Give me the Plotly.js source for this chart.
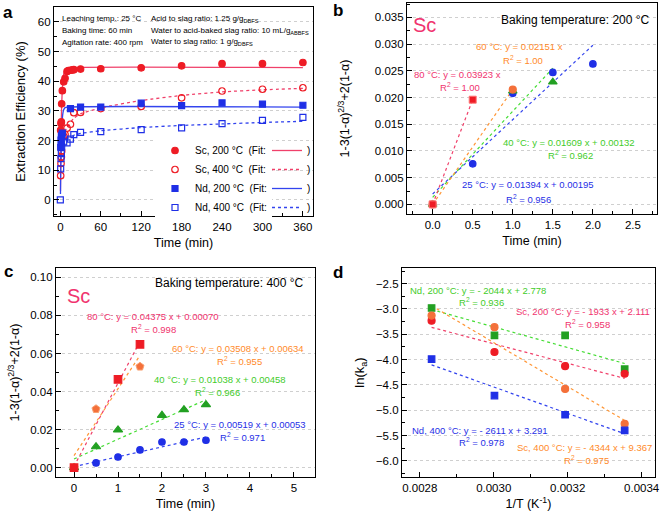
<!DOCTYPE html>
<html><head><meta charset="utf-8">
<script src="https://cdn.plot.ly/plotly-3.0.1.min.js"></script>
<style>html,body{margin:0;padding:0;background:#fff}#chart{width:661px;height:516px}</style>
</head><body><div id="chart"></div>
<script>
// ---------- Panel a data ----------
const aTimeSc200 = [0.5, 1, 1.5, 2, 3, 5, 7, 10, 12, 15, 18, 20, 30, 60, 120, 180, 240, 300, 360];
const aSc200 = [23.5, 25.8, 26.3, 32.4, 36.8, 39.8, 41, 43.3, 43.6, 43.7, 43.8, 43.9, 44.1, 44.2, 44.5, 45.2, 45.9, 45.9, 46.3];
const aTimeSc400 = [0.5, 1, 1.5, 2, 5, 7, 10, 15, 20, 30, 60, 120, 180, 240, 300, 360];
const aSc400 = [8.2, 12.3, 14.5, 16.5, 21.5, 22, 24.2, 25.5, 29.4, 29.5, 30.8, 31.5, 34.4, 36.7, 37.3, 37.8];
const aTimeNd200 = [0.5, 1, 1.5, 2, 3, 15, 30, 60, 120, 180, 240, 300, 360];
const aNd200 = [17.8, 20.2, 21.3, 21.8, 22.5, 30.8, 31.3, 31.3, 32.6, 31.8, 32.7, 32.3, 31.9];
const aTimeNd400 = [0, 0.5, 1, 1.5, 2, 5, 10, 15, 20, 30, 60, 120, 180, 240, 300, 360];
const aNd400 = [0, 10.5, 13.9, 15.6, 18, 19.6, 19.2, 20.5, 22, 22.8, 23, 23.7, 24.3, 25.7, 26.8, 27.8];
// fit curves
const fitTSc200 = [0.2, 0.5, 1, 1.5, 2, 3, 4, 5, 7, 10, 15, 360];
const fitSc200 = [3, 12, 21, 27.5, 32, 37.5, 40.5, 42.3, 43.8, 44.4, 44.6, 44.6];
const fitTSc400 = [0.5, 1, 2, 3, 5, 10, 20, 30, 60, 120, 180, 240, 300, 360];
const fitSc400 = [13, 15.5, 18.5, 20, 22, 24.5, 27.5, 29, 31, 33.5, 35.2, 36.4, 37.1, 37.6];
const fitTNd200 = [0.2, 0.5, 1, 1.5, 2, 3, 4, 5, 7, 10, 360];
const fitNd200 = [2, 8, 15, 20, 23.5, 27.5, 29.5, 30.4, 31.1, 31.3, 31.3];
const fitTNd400 = [0.5, 1, 2, 3, 5, 10, 20, 30, 60, 120, 180, 240, 300, 360];
const fitNd400 = [13, 15, 17, 18, 19.2, 20.6, 21.8, 22.4, 23.3, 24.4, 25.1, 25.6, 26.1, 26.5];
const aLegendNames = ['Sc, 200 °C \u00a0(Fit:', 'Sc, 400 °C \u00a0(Fit:', 'Nd, 200 °C \u00a0(Fit:', 'Nd, 400 °C \u00a0(Fit:'];

// ---------- Panel b data (baking 200 °C) ----------
const b25x = [0, 0.5, 1, 1.5, 2];
const b25y = [0, 0.0076, 0.0208, 0.0247, 0.0263];
const b25fitX = [0, 2], b25fitY = [0.00195, 0.0298];
const b40x = [0, 1, 1.5];
const b40y = [0, 0.0212, 0.0229];
const b40fitX = [0, 1.5], b40fitY = [0.00132, 0.0255];
const b60x = [0, 1];
const b60y = [0, 0.0215];
const b60fitX = [0, 1], b60fitY = [0, 0.02151];
const b80x = [0, 0.5];
const b80y = [0, 0.0196];
const b80fitX = [0, 0.5], b80fitY = [0, 0.0196];

// ---------- Panel c data (baking 400 °C) ----------
const c25x = [0, 0.5, 1, 1.5, 2, 2.5, 3];
const c25y = [0, 0.0025, 0.0056, 0.0093, 0.0135, 0.0135, 0.0144];
const c25fitX = [0, 3], c25fitY = [0.00053, 0.0161];
const c40x = [0, 0.5, 1, 2, 2.5, 3];
const c40y = [0, 0.011, 0.0198, 0.0275, 0.0305, 0.0331];
const c40fitX = [0, 3], c40fitY = [0.00458, 0.0357];
const c60x = [0, 0.5, 1.5];
const c60y = [0, 0.0308, 0.0531];
const c60fitX = [0, 1.5], c60fitY = [0.00634, 0.059];
const c80x = [0, 1, 1.5];
const c80y = [0, 0.0464, 0.0648];
const c80fitX = [0, 1.5], c80fitY = [0.0007, 0.0663];

// ---------- Panel d data ----------
const dInvT = [0.002832, 0.003002, 0.003193, 0.003354];
const dNd200 = [-2.98, -3.52, -3.52, -4.19];
const dSc200 = [-3.23, -3.85, -4.13, -4.28];
const dSc400 = [-3.13, -3.36, -4.58, -5.27];
const dNd400 = [-3.99, -4.71, -5.09, -5.40];
const dFitX = [0.002832, 0.003354];
const dNd200fit = [-3.011, -4.077];
const dSc200fit = [-3.363, -4.372];
const dSc400fit = [-2.935, -5.203];
const dNd400fit = [-4.103, -5.466];

// ---------- styles ----------
const W = 661, H = 516;
const FONT = 'Liberation Sans, Arial, Helvetica, sans-serif';
const RED = '#ee1c25', REDL = '#f0406a', PINK = '#f0336e';
const BLUE = '#1f2fe6', BLUEL = '#3344ee';
const ORANGE = '#f4703a', ORANGEL = '#ff9636', ORANGET = '#ff8a2a';
const GREEN = '#22a022', GREENL = '#44dd33', GREENT = '#3fcc2a';

const traces = [];
function pts(x, y, xa, ya, color, symbol, size, extra) {
  return Object.assign({x, y, xaxis: xa, yaxis: ya, type: 'scatter', mode: 'markers', showlegend: false,
    marker: {color, symbol, size, line: {color, width: 1.2}}}, extra || {});
}
function ln(x, y, xa, ya, color, dash, extra) {
  return Object.assign({x, y, xaxis: xa, yaxis: ya, type: 'scatter', mode: 'lines', showlegend: false,
    line: {color, width: 1.2, dash}}, extra || {});
}
// panel a: fits first (drawn below markers)
traces.push(ln(fitTSc200, fitSc200, 'x', 'y', REDL, 'solid', {showlegend: true, legend: 'legend2', name: ')', line: {color: REDL, width: 1.3, shape: 'spline', smoothing: 0.6}}));
traces.push(ln(fitTSc400, fitSc400, 'x', 'y', REDL, 'dot', {showlegend: true, legend: 'legend2', name: ')', line: {color: REDL, width: 1.3, dash: 'dot', shape: 'spline', smoothing: 0.6}}));
traces.push(ln(fitTNd200, fitNd200, 'x', 'y', BLUEL, 'solid', {showlegend: true, legend: 'legend2', name: ')', line: {color: BLUEL, width: 1.3, shape: 'spline', smoothing: 0.6}}));
traces.push(ln(fitTNd400, fitNd400, 'x', 'y', BLUEL, 'dot', {showlegend: true, legend: 'legend2', name: ')', line: {color: BLUEL, width: 1.3, dash: 'dot', shape: 'spline', smoothing: 0.6}}));
traces.push(pts(aTimeSc200, aSc200, 'x', 'y', RED, 'circle', 6.5, {showlegend: true, name: aLegendNames[0]}));
traces.push(pts(aTimeSc400, aSc400, 'x', 'y', RED, 'circle-open', 6.5, {showlegend: true, name: aLegendNames[1]}));
traces.push(pts(aTimeNd200, aNd200, 'x', 'y', BLUE, 'square', 6, {showlegend: true, name: aLegendNames[2]}));
traces.push(pts(aTimeNd400, aNd400, 'x', 'y', BLUE, 'square-open', 6, {showlegend: true, name: aLegendNames[3]}));

// panel b
traces.push(ln(b25fitX, b25fitY, 'x2', 'y2', BLUEL, 'dot'));
traces.push(ln(b40fitX, b40fitY, 'x2', 'y2', GREENL, 'dot'));
traces.push(ln(b60fitX, b60fitY, 'x2', 'y2', ORANGEL, 'dot'));
traces.push(ln(b80fitX, b80fitY, 'x2', 'y2', REDL, 'dot'));
traces.push(pts(b25x, b25y, 'x2', 'y2', BLUE, 'circle', 6.5));
traces.push(pts(b40x, b40y, 'x2', 'y2', GREEN, 'triangle-up', 7.5));
traces.push(pts(b60x, b60y, 'x2', 'y2', ORANGE, 'circle', 7));
traces.push(pts(b80x, b80y, 'x2', 'y2', RED, 'square', 7, {marker: {color: RED, symbol: 'square', size: 7, line: {color: '#f77', width: 1}}}));

// panel c
traces.push(ln(c25fitX, c25fitY, 'x3', 'y3', BLUEL, 'dot'));
traces.push(ln(c40fitX, c40fitY, 'x3', 'y3', GREENL, 'dot'));
traces.push(ln(c60fitX, c60fitY, 'x3', 'y3', ORANGEL, 'dot'));
traces.push(ln(c80fitX, c80fitY, 'x3', 'y3', REDL, 'dot'));
traces.push(pts(c25x, c25y, 'x3', 'y3', BLUE, 'circle', 6.5));
traces.push(pts(c40x, c40y, 'x3', 'y3', GREEN, 'triangle-up', 8));
traces.push(pts(c60x, c60y, 'x3', 'y3', ORANGE, 'pentagon', 8.5, {marker: {color: ORANGE, symbol: 'pentagon', size: 8.5, line: {color: '#f9a070', width: 1}}}));
traces.push(pts(c80x, c80y, 'x3', 'y3', RED, 'square', 7.5));

// panel d
traces.push(ln(dFitX, dNd200fit, 'x4', 'y4', GREENL, 'dot'));
traces.push(ln(dFitX, dSc200fit, 'x4', 'y4', REDL, 'dot'));
traces.push(ln(dFitX, dSc400fit, 'x4', 'y4', ORANGEL, 'dot'));
traces.push(ln(dFitX, dNd400fit, 'x4', 'y4', BLUEL, 'dot'));
traces.push(pts(dInvT, dNd200, 'x4', 'y4', GREEN, 'square', 6.5));
traces.push(pts(dInvT, dSc200, 'x4', 'y4', RED, 'circle', 7));
traces.push(pts(dInvT, dSc400, 'x4', 'y4', ORANGE, 'circle', 7));
traces.push(pts(dInvT, dNd400, 'x4', 'y4', BLUE, 'square', 6.5));

// ---------- axes ----------
function px(x) { return x / W; }
function py(y) { return 1 - y / H; }
function axis(extra) {
  return Object.assign({
    showline: true, linecolor: '#000', linewidth: 1.2, mirror: true,
    ticks: 'inside', ticklen: 5, tickwidth: 1, tickcolor: '#000',
    showgrid: false, zeroline: false,
    tickfont: {size: 11.5, color: '#000', family: FONT},
  }, extra);
}
function grid() { return {showgrid: true, gridcolor: '#cfcfcf', griddash: 'dot', gridwidth: 1}; }

const layout = {
  width: W, height: H,
  margin: {l: 0, r: 0, t: 0, b: 0},
  paper_bgcolor: '#fff', plot_bgcolor: '#fff',
  font: {family: FONT, color: '#000'},
  xaxis: axis({domain: [px(54), px(313)], range: [-9.4, 375], tickvals: [0, 60, 120, 180, 240, 300, 360],
    minor: {dtick: 30, tick0: 0, ticks: 'inside', ticklen: 3, tickcolor: '#000'},
    title: {text: 'Time (min)', font: {size: 12.5}, standoff: 6}, anchor: 'y'}),
  yaxis: axis(Object.assign(grid(), {domain: [py(216), py(7)], range: [-5.4, 65], dtick: 10, tick0: 0,
    minor: {dtick: 5, tick0: 0, ticks: 'inside', ticklen: 3, tickcolor: '#000'},
    title: {text: 'Extraction Efficiency (%)', font: {size: 13}, standoff: 9}, anchor: 'x'})),
  xaxis2: axis({domain: [px(407), px(657)], range: [-0.32, 2.8], dtick: 0.5, tick0: 0, tickformat: '.1f',
    minor: {dtick: 0.25, tick0: 0, ticks: 'inside', ticklen: 3, tickcolor: '#000'},
    title: {text: 'Time (min)', font: {size: 12.5}, standoff: 6}, anchor: 'y2'}),
  yaxis2: axis(Object.assign(grid(), {domain: [py(214), py(3)], range: [-0.0018, 0.0377], dtick: 0.005, tick0: 0, tickformat: '.3f',
    minor: {dtick: 0.0025, tick0: 0, ticks: 'inside', ticklen: 3, tickcolor: '#000'},
    title: {text: '1-3(1-α)<sup>2/3</sup>+2(1-α)', font: {size: 12.5}, standoff: 22}, anchor: 'x2'})),
  xaxis3: axis({domain: [px(56), px(315)], range: [-0.41, 5.48], dtick: 1, tick0: 0,
    minor: {dtick: 0.5, tick0: 0, ticks: 'inside', ticklen: 3, tickcolor: '#000'},
    title: {text: 'Time (min)', font: {size: 12.5}, standoff: 6}, anchor: 'y3'}),
  yaxis3: axis(Object.assign(grid(), {domain: [py(477), py(268)], range: [-0.0049, 0.1049], dtick: 0.02, tick0: 0, tickformat: '.2f',
    minor: {dtick: 0.01, tick0: 0, ticks: 'inside', ticklen: 3, tickcolor: '#000'},
    title: {text: '1-3(1-α)<sup>2/3</sup>+2(1-α)', font: {size: 12.5}, standoff: 7}, anchor: 'x3'})),
  xaxis4: axis({domain: [px(402), px(655)], range: [0.002752, 0.003436], dtick: 0.0002, tick0: 0.0028, tickformat: '.4f',
    minor: {dtick: 0.0001, tick0: 0.0028, ticks: 'inside', ticklen: 3, tickcolor: '#000'},
    title: {text: '1/T (K<sup>-1</sup>)', font: {size: 12.5}, standoff: 6}, anchor: 'y4'}),
  yaxis4: axis(Object.assign(grid(), {domain: [py(477), py(268)], range: [-6.32, -2.19], dtick: 0.5, tick0: -6, tickformat: '.1f',
    minor: {dtick: 0.25, tick0: -6, ticks: 'inside', ticklen: 3, tickcolor: '#000'},
    title: {text: 'ln(k<sub>a</sub>)', font: {size: 13}, standoff: 8}, anchor: 'x4'})),
  legend: {x: px(155), y: py(136), xanchor: 'left', yanchor: 'top', bgcolor: '#fff', borderwidth: 0,
    font: {size: 10, family: FONT, color: '#000'}, itemwidth: 30, tracegroupgap: 0},
  legend2: {x: px(267), y: py(136), xanchor: 'left', yanchor: 'top', bgcolor: 'rgba(255,255,255,0)', borderwidth: 0,
    font: {size: 10, family: FONT, color: '#000'}, itemwidth: 30, tracegroupgap: 0},
  annotations: []
};

function ann(text, x, y, color, size, opts) {
  layout.annotations.push(Object.assign({text, x: px(x), y: py(y), xref: 'paper', yref: 'paper', showarrow: false,
    xanchor: 'center', yanchor: 'middle', font: {color, size, family: FONT}}, opts || {}));
}
// panel labels
ann('<b>a</b>', 8, 12, '#000', 17);
ann('<b>b</b>', 338, 10, '#000', 17);
ann('<b>c</b>', 8, 271, '#000', 17);
ann('<b>d</b>', 338, 272, '#000', 17);
// panel a conditions
const L = {xanchor: 'left'};
ann('Leaching temp.: 25 °C', 60, 19, '#000', 8, L);
ann('Baking time: 60 min', 60, 30.7, '#000', 8, L);
ann('Agitation rate: 400 rpm', 60, 42.3, '#000', 8, L);
ann('Acid to slag ratio: 1.25 g/g<sub>DBFS</sub>', 149, 19, '#000', 8, L);
ann('Water to acid-baked slag ratio: 10 mL/g<sub>ABBFS</sub>', 149, 30.7, '#000', 8, L);
ann('Water to slag ratio: 1 g/g<sub>DBFS</sub>', 149, 42.3, '#000', 8, L);
// panel b
ann('Sc', 425, 25, PINK, 20);
ann('Baking temperature: 200 °C', 575, 20, '#000', 12);
ann('60 °C: y = 0.02151 x', 519, 47, ORANGET, 9.5);
ann('R<sup>2</sup> = 1.00', 523, 60, ORANGET, 9.5);
ann('80 °C: y = 0.03923 x', 457, 74, PINK, 9.5);
ann('R<sup>2</sup> = 1.00', 460, 87, PINK, 9.5);
ann('40 °C: y = 0.01609 x + 0.00132', 569, 142, GREENT, 9.5);
ann('R<sup>2</sup> = 0.962', 570, 155, GREENT, 9.5);
ann('25 °C: y = 0.01394 x + 0.00195', 528, 185, BLUE, 9.5);
ann('R<sup>2</sup> = 0.956', 528, 199, BLUE, 9.5);
// panel c
ann('Sc', 78, 296, PINK, 20);
ann('Baking temperature: 400 °C', 229, 283, '#000', 12);
ann('80 °C: y = 0.04375 x + 0.00070', 153, 316, PINK, 9.5);
ann('R<sup>2</sup> = 0.998', 153, 329, PINK, 9.5);
ann('60 °C: y = 0.03508 x + 0.00634', 238, 348, ORANGET, 9.5);
ann('R<sup>2</sup> = 0.955', 239, 361, ORANGET, 9.5);
ann('40 °C: y = 0.01038 x + 0.00458', 220, 379, GREENT, 9.5);
ann('R<sup>2</sup> = 0.966', 217, 392, GREENT, 9.5);
ann('25 °C: y = 0.00519 x + 0.00053', 240, 424, BLUE, 9.5);
ann('R<sup>2</sup> = 0.971', 242, 437, BLUE, 9.5);
// panel d
ann('Nd, 200 °C: y = - 2044 x + 2.778', 478, 290, GREENT, 9.5);
ann('R<sup>2</sup> = 0.936', 481, 302, GREENT, 9.5);
ann('Sc, 200 °C: y = - 1933 x + 2.111', 583, 311, PINK, 9.5);
ann('R<sup>2</sup> = 0.958', 587, 324, PINK, 9.5);
ann('Nd, 400 °C: y = - 2611 x + 3.291', 480, 430, BLUE, 9.5);
ann('R<sup>2</sup> = 0.978', 481, 442, BLUE, 9.5);
ann('Sc, 400 °C: y = - 4344 x + 9.367', 584, 447, ORANGET, 9.5);
ann('R<sup>2</sup> = 0.975', 586, 460, ORANGET, 9.5);

Plotly.newPlot('chart', traces, layout, {displayModeBar: false});
</script>
</body></html>
